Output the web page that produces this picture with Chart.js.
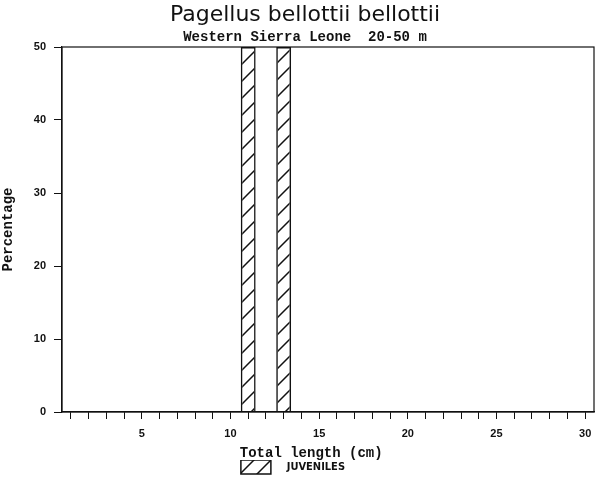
<!DOCTYPE html>
<html><head><meta charset="utf-8">
<script src="https://cdn.jsdelivr.net/npm/chart.js@4/dist/chart.umd.min.js"></script>
<style>html,body{margin:0;padding:0;background:#fff}#wrap{width:600px;height:477px}</style>
</head><body><div id="wrap"><canvas id="c" width="600" height="477"></canvas></div>
<script>
// ---- data ----
const lengths = [11, 13];            // total length class (cm)
const juvenilePct = [50, 50];        // percentage of juveniles
const xTickValues = [1,2,3,4,5,6,7,8,9,10,11,12,13,14,15,16,17,18,19,20,21,22,23,24,25,26,27,28,29,30];
const xLabelled = [5, 10, 15, 20, 25, 30];
const yTicks = [0, 10, 20, 30, 40, 50];
const titleText = 'Pagellus bellottii bellottii';
const subtitleText = 'Western Sierra Leone  20-50 m';
const xTitle = 'Total length (cm)';
const yTitle = 'Percentage';
const seriesName = 'JUVENILES';

const INK = '#111';
const canvas = document.getElementById('c');
const ctx = canvas.getContext('2d');

function hatchPattern() {
  const s = 17;
  const c = document.createElement('canvas');
  c.width = s; c.height = s;
  const g = c.getContext('2d');
  g.strokeStyle = INK; g.lineWidth = 1.5;
  g.beginPath();
  g.moveTo(-2, s + 2); g.lineTo(s + 2, -2);
  g.moveTo(-2, 2); g.lineTo(2, -2);
  g.moveTo(s - 2, s + 2); g.lineTo(s + 2, s - 2);
  g.stroke();
  return ctx.createPattern(c, 'repeat');
}
const hatch = hatchPattern();

const frame = {
  id: 'frame',
  afterDatasetsDraw(chart) {
    const a = chart.chartArea, g = chart.ctx;
    g.save(); g.strokeStyle = INK; g.lineWidth = 1.2;
    g.strokeRect(a.left, a.top, a.right - a.left, a.bottom - a.top);
    g.restore();
  }
};

const mono = "'Liberation Mono', 'DejaVu Sans Mono', monospace";
const tickFont = {family: "'Liberation Sans', Arial, sans-serif", size: 11, weight: 'bold'};

new Chart(ctx, {
  type: 'bar',
  data: {
    datasets: [{
      label: '   ' + seriesName + '       ',
      data: lengths.map((x, i) => ({x: x, y: juvenilePct[i]})),
      backgroundColor: hatch,
      borderColor: INK,
      borderWidth: 1.5,
      barPercentage: 1,
      categoryPercentage: 0.84
    }]
  },
  options: {
    responsive: false,
    animation: false,
    devicePixelRatio: 1,
    layout: {padding: {left: 16, right: 6, top: 0, bottom: -7}},
    plugins: {
      title: {display: true, text: titleText, color: INK,
        font: {family: "'DejaVu Sans', sans-serif", size: 22, weight: 'normal', lineHeight: 1.2},
        padding: {top: 2, bottom: 0.2}},
      subtitle: {display: true, text: subtitleText, color: INK,
        font: {family: mono, size: 14, weight: 'bold', lineHeight: 1.2},
        padding: {top: 0, bottom: 1.6}},
      legend: {display: true, position: 'bottom',
        labels: {color: INK, boxWidth: 30, boxHeight: 14, padding: 0,
          font: {family: "'Liberation Sans Narrow', 'DejaVu Sans Condensed', sans-serif", size: 11, weight: 'bold'}}},
      tooltip: {enabled: false}
    },
    scales: {
      x: {
        type: 'linear', min: 0.5, max: 30.5, offset: false,
        afterBuildTicks(s) { s.ticks = xTickValues.map(v => ({value: v})); },
        ticks: {autoSkip: false, maxRotation: 0, minRotation: 0, color: INK, font: tickFont, padding: 8,
          callback: v => xLabelled.includes(Math.round(v)) && Math.abs(v - Math.round(v)) < 1e-6 ? String(Math.round(v)) : ''},
        grid: {display: true, offset: false, drawOnChartArea: false, drawTicks: true, tickLength: 7, color: INK, lineWidth: 1},
        border: {display: true, color: INK, width: 1.2},
        title: {display: true, text: xTitle + '    ', color: INK,
          font: {family: mono, size: 14, weight: 'bold', lineHeight: 1.2}, padding: {top: 0, bottom: -2}},
        afterFit(s) { s.height = 48; s.paddingLeft = 0; s.paddingRight = 0; }
      },
      y: {
        min: yTicks[0], max: yTicks[yTicks.length - 1],
        ticks: {stepSize: yTicks[1] - yTicks[0], color: INK, font: tickFont, padding: 8},
        grid: {display: true, drawOnChartArea: false, drawTicks: true, tickLength: 8, color: INK, lineWidth: 1},
        border: {display: true, color: INK, width: 1.2},
        title: {display: true, text: yTitle, color: INK,
          font: {family: mono, size: 14, weight: 'bold', lineHeight: 1.2}, padding: {top: -16.4, bottom: 0}},
        afterFit(s) { s.width = 46; s.paddingTop = 0; s.paddingBottom = 0; }
      }
    }
  },
  plugins: [frame]
});
</script></body></html>
